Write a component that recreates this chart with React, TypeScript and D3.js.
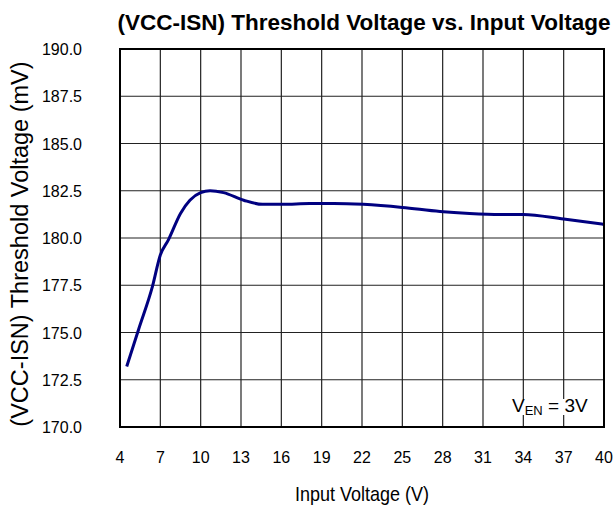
import React, { useEffect, useRef } from "react";
import * as d3 from "d3";

// Input voltage (V) vs (VCC-ISN) threshold voltage (mV)
const vin = [4.5, 5.4, 6.4, 7.0, 7.6, 8.5, 9.2, 10.0, 10.7, 11.7, 13.2, 14.6, 16.1, 18.1, 19.9, 22.1, 25.0, 27.8, 30.0, 32.3, 34.0, 37.0, 40.0];
const vth = [173.2, 175.2, 177.4, 179.1, 179.9, 181.3, 182.0, 182.4, 182.5, 182.4, 182.0, 181.78, 181.78, 181.83, 181.83, 181.78, 181.62, 181.4, 181.3, 181.25, 181.25, 181.0, 180.72];

const xTicks = [4, 7, 10, 13, 16, 19, 22, 25, 28, 31, 34, 37, 40];
const yTicks = [170, 172.5, 175, 177.5, 180, 182.5, 185, 187.5, 190];

const App = () => {
  const ref = useRef<SVGSVGElement>(null);

  useEffect(() => {
    const svg = d3.select(ref.current);
    svg.selectAll("*").remove();
    const font = "Arial, 'Liberation Sans', sans-serif";
    const left = 120, right = 604, top = 49, bottom = 427;

    const x = d3.scaleLinear().domain([4, 40]).range([left, right]);
    const y = d3.scaleLinear().domain([170, 190]).range([bottom, top]);

    svg.append("rect").attr("width", 616).attr("height", 508).attr("fill", "white");

    // grid
    svg.append("g").selectAll("line").data(xTicks).enter().append("line")
      .attr("x1", d => x(d)).attr("x2", d => x(d))
      .attr("y1", top).attr("y2", bottom)
      .attr("stroke", "#222").attr("stroke-width", 1.2);
    svg.append("g").selectAll("line").data(yTicks).enter().append("line")
      .attr("x1", left).attr("x2", right)
      .attr("y1", d => y(d)).attr("y2", d => y(d))
      .attr("stroke", "#222").attr("stroke-width", 1.2);

    // legend label with white backing
    const leg = svg.append("text")
      .attr("x", 512).attr("y", 412)
      .style("font-family", font).style("font-size", "19px").attr("fill", "black");
    leg.append("tspan").text("V");
    leg.append("tspan").text("EN").style("font-size", "13px").attr("dy", 3);
    leg.append("tspan").text(" = 3V").attr("dy", -3);
    const bb = (leg.node() as SVGTextElement).getBBox();
    svg.insert("rect", "text")
      .attr("x", bb.x - 2).attr("y", bb.y + 4).attr("width", bb.width + 3).attr("height", bb.height - 7)
      .attr("fill", "white");

    // curve
    const pts = vin.map((v, i) => [v, vth[i]] as [number, number]);
    svg.append("path")
      .datum(pts)
      .attr("d", d3.line<[number, number]>().x(d => x(d[0])).y(d => y(d[1])).curve(d3.curveMonotoneX))
      .attr("fill", "none").attr("stroke", "#000080").attr("stroke-width", 3);

    // frame
    svg.append("rect")
      .attr("x", left).attr("y", top).attr("width", right - left).attr("height", bottom - top)
      .attr("fill", "none").attr("stroke", "black").attr("stroke-width", 2);

    // tick labels
    svg.append("g").selectAll("text").data(yTicks).enter().append("text")
      .attr("x", 82).attr("y", d => y(d) + 6)
      .attr("text-anchor", "end")
      .style("font-family", font).style("font-size", "16px")
      .text(d => d.toFixed(1));
    svg.append("g").selectAll("text").data(xTicks).enter().append("text")
      .attr("x", d => x(d)).attr("y", 463)
      .attr("text-anchor", "middle")
      .style("font-family", font).style("font-size", "16px")
      .text(d => d);

    // axis titles
    svg.append("text")
      .attr("transform", "translate(362,501) scale(1,1.08)")
      .attr("text-anchor", "middle")
      .style("font-family", font).style("font-size", "18px")
      .text("Input Voltage (V)");
    svg.append("text")
      .attr("transform", "translate(28,244) rotate(-90)")
      .attr("text-anchor", "middle")
      .style("font-family", font).style("font-size", "23.5px")
      .text("(VCC-ISN) Threshold Voltage (mV)");
    svg.append("text")
      .attr("x", 364).attr("y", 30)
      .attr("text-anchor", "middle")
      .style("font-family", font).style("font-size", "22.5px").style("font-weight", "bold")
      .text("(VCC-ISN) Threshold Voltage vs. Input Voltage");
  }, []);

  return <svg ref={ref} width={616} height={508} style={{ position: "absolute", left: 0, top: 0 }} />;
};

export default App;
